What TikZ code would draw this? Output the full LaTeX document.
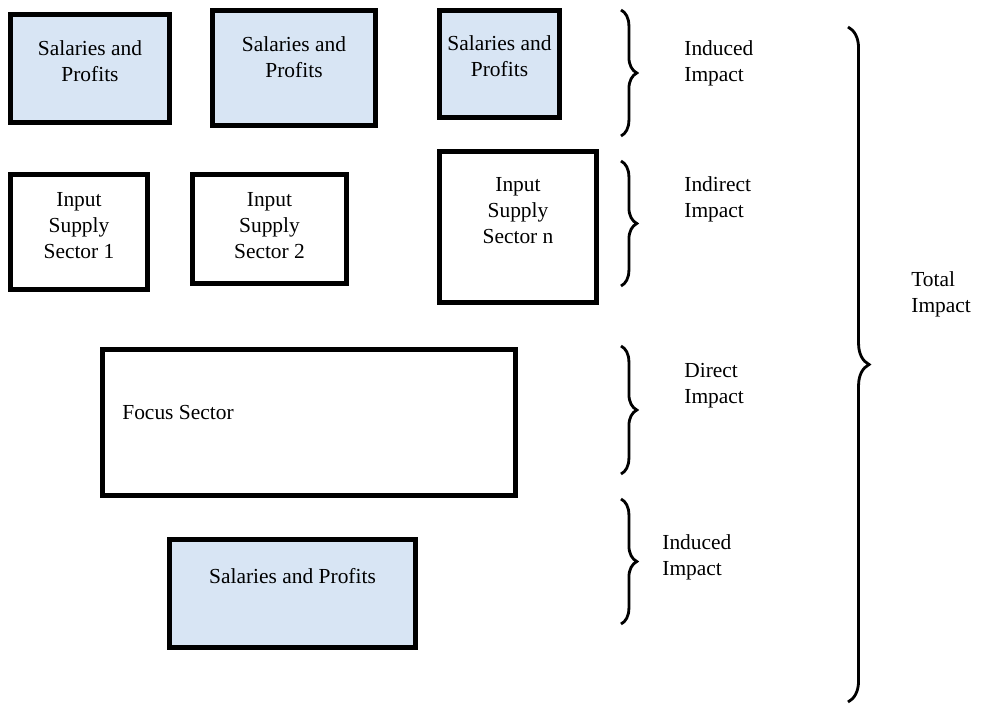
\documentclass[tikz,border=0pt]{standalone}
\usepackage{fontspec}
\setmainfont{Liberation Serif}
\newfontfamily\tnr{Liberation Serif}
\usetikzlibrary{decorations.pathreplacing}

\definecolor{paleblue}{RGB}{216,229,244}

\begin{document}
\begin{tikzpicture} [
    x=0.02cm, y=-0.02cm,
    box/.style 2 args={draw=black, line width=2.6pt, minimum width=#1*0.02cm, minimum height=#2*0.02cm, inner sep=0pt},
    salbox/.style 2 args={box={#1}{#2}, fill=paleblue},
    lbl/.style={align=center, font=\tnr\fontsize{12.2}{14.8}\selectfont, inner sep=0pt},
    curly/.style={decorate, decoration={brace, amplitude=#1}, line width=1.6pt}
  ]

\useasboundingbox (0,0) rectangle (982,705);

% top row: salaries and profits
\node[salbox={159}{108}] (sal1) at (90,68.5) {};
\node[lbl] (sal1t) at (90,61) {Salaries and\\Profits};
\node[salbox={163}{115}] (sal2) at (294,68) {};
\node[lbl] (sal2t) at (294,57) {Salaries and\\Profits};
\node[salbox={120}{107}] (sal3) at (499.5,64) {};
\node[lbl] (sal3t) at (499.5,56) {Salaries and\\Profits};

% input supply sectors
\node[box={137}{115}] (inp1) at (79,232) {};
\node[lbl] (inp1t) at (79,226) {Input\\Supply\\Sector 1};
\node[box={154}{109}] (inp2) at (269.5,229) {};
\node[lbl] (inp2t) at (269.5,226) {Input\\Supply\\Sector 2};
\node[box={157}{151}] (inpn) at (518,227) {};
\node[lbl] (inpnt) at (518,211) {Input\\Supply\\Sector n};

% focus sector
\node[box={413}{146}] (focus) at (309,422.5) {};
\node[lbl, anchor=west] (focust) at (122,413) {Focus Sector};

% induced: salaries and profits
\node[salbox={246}{108}] (sal4) at (292.5,593.5) {};
\node[lbl] (sal4t) at (292.5,576) {Salaries and Profits};

% braces
\coordinate (b1a) at (621,10);   \coordinate (b1b) at (621,136);
\coordinate (b2a) at (621,161);  \coordinate (b2b) at (621,286);
\coordinate (b3a) at (621,346);  \coordinate (b3b) at (621,474);
\coordinate (b4a) at (621,499);  \coordinate (b4b) at (621,624);
\coordinate (tota) at (848,27);  \coordinate (totb) at (848,702);

\draw[curly=9pt] (b1a) -- (b1b);
\draw[curly=9pt] (b2a) -- (b2b);
\draw[curly=9pt] (b3a) -- (b3b);
\draw[curly=9pt] (b4a) -- (b4b);
\draw[curly=12pt] (tota) -- (totb);

\node[lbl, align=left, anchor=west] (ind1) at (684,63) {Induced\\Impact};
\node[lbl, align=left, anchor=west] (indir) at (684,199) {Indirect\\Impact};
\node[lbl, align=left, anchor=west] (dir) at (684,386) {Direct\\Impact};
\node[lbl, align=left, anchor=west] (ind2) at (662,557) {Induced\\Impact};
\node[lbl, align=left, anchor=west] (total) at (911,294) {Total\\Impact};

\end{tikzpicture}
\end{document}
